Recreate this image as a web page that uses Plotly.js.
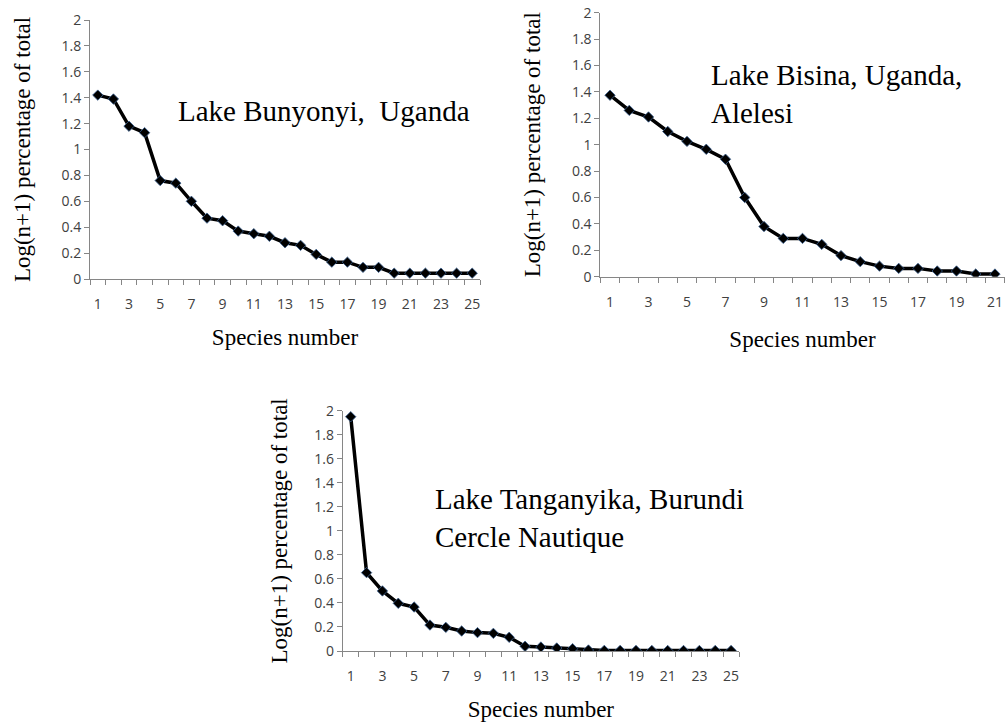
<!DOCTYPE html>
<html>
<head>
<meta charset="utf-8">
<script src="https://cdn.plot.ly/plotly-3.0.1.min.js"></script>
<style>html,body{margin:0;padding:0;background:#fff;}#chart{width:1005px;height:722px;}</style>
</head>
<body>
<div id="chart"></div>
<script>
// ---- data ----
const speciesBunyonyi = [1,2,3,4,5,6,7,8,9,10,11,12,13,14,15,16,17,18,19,20,21,22,23,24,25];
const valuesBunyonyi = [1.42,1.39,1.18,1.13,0.76,0.74,0.60,0.47,0.45,0.37,0.35,0.33,0.28,0.26,0.19,0.13,0.13,0.09,0.09,0.045,0.045,0.045,0.045,0.045,0.045];

const speciesBisina = [1,2,3,4,5,6,7,8,9,10,11,12,13,14,15,16,17,18,19,20,21];
const valuesBisina = [1.375,1.26,1.21,1.10,1.025,0.965,0.89,0.60,0.38,0.29,0.29,0.245,0.16,0.114,0.08,0.063,0.063,0.043,0.043,0.02,0.02];

const speciesTanganyika = [1,2,3,4,5,6,7,8,9,10,11,12,13,14,15,16,17,18,19,20,21,22,23,24,25];
const valuesTanganyika = [1.95,0.652,0.50,0.397,0.366,0.216,0.197,0.166,0.153,0.147,0.114,0.039,0.033,0.025,0.019,0.008,0.005,0.005,0.005,0.004,0.004,0.004,0.004,0.004,0.004];

const labelsBunyonyi = [1,3,5,7,9,11,13,15,17,19,21,23,25];
const labelsBisina = [1,3,5,7,9,11,13,15,17,19,21];
const labelsTanganyika = [1,3,5,7,9,11,13,15,17,19,21,23,25];

const yTitle = 'Log(n+1) percentage of total';
const xTitle = 'Species number';
const titleBunyonyi = 'Lake Bunyonyi,  Uganda';
const titleBisina = 'Lake Bisina, Uganda,<br>Alelesi';
const titleTanganyika = 'Lake Tanganyika, Burundi<br>Cercle Nautique';

// ---- styling ----
const W = 1005, H = 722;
const px = v => v / W;
const py = v => 1 - v / H;
const axisColor = '#868686';
const tickFont = {family: '"Open Sans", Lato, sans-serif', size: 14, color: '#404040'};
const titleFont = {family: '"Liberation Serif", "DejaVu Serif", serif', size: 23, color: '#000000'};
const annFont = {family: '"Liberation Serif", "DejaVu Serif", serif', size: 29, color: '#000000'};

function lineTrace(x, y, xa, ya) {
  return {
    type: 'scatter', mode: 'lines+markers', x: x, y: y, xaxis: xa, yaxis: ya,
    line: {color: '#000000', width: 3.5},
    marker: {symbol: 'diamond', size: 8, color: '#000000', line: {color: '#3a5f8f', width: 0.8}},
    showlegend: false, hoverinfo: 'x+y'
  };
}

function xAxis(domain, n, labels, anchor, standoff) {
  return {
    domain: domain, anchor: anchor, range: [0.5, n + 0.5],
    tickmode: 'array', tickvals: labels, ticktext: labels.map(String),
    ticks: '', ticklabelstandoff: 12,
    minor: {tickmode: 'linear', tick0: 0.5, dtick: 1, ticks: 'outside', ticklen: 5, tickcolor: axisColor, tickwidth: 1, showgrid: false},
    showline: true, linecolor: axisColor, linewidth: 1,
    showgrid: false, zeroline: false, tickfont: tickFont,
    title: {text: xTitle, font: titleFont, standoff: standoff}
  };
}

function yAxis(domain, anchor, standoff) {
  return {
    domain: domain, anchor: anchor, range: [0, 2],
    tickmode: 'linear', tick0: 0, dtick: 0.2,
    ticks: 'outside', ticklen: 5, tickcolor: axisColor, tickwidth: 1,
    showline: true, linecolor: axisColor, linewidth: 1,
    showgrid: false, zeroline: false, tickfont: tickFont,
    title: {text: yTitle, font: titleFont, standoff: standoff}
  };
}

const data = [
  lineTrace(speciesBunyonyi, valuesBunyonyi, 'x', 'y'),
  lineTrace(speciesBisina, valuesBisina, 'x2', 'y2'),
  lineTrace(speciesTanganyika, valuesTanganyika, 'x3', 'y3')
];

const layout = {
  width: W, height: H,
  margin: {l: 0, r: 0, t: 0, b: 0},
  paper_bgcolor: '#ffffff', plot_bgcolor: 'rgba(0,0,0,0)',
  showlegend: false,
  xaxis: xAxis([px(90), px(480)], speciesBunyonyi.length, labelsBunyonyi, 'y', 17),
  yaxis: yAxis([py(279), py(20)], 'x', 24),
  xaxis2: xAxis([px(600.4), px(1004.6)], speciesBisina.length, labelsBisina, 'y2', 21),
  yaxis2: yAxis([py(276.7), py(12.7)], 'x2', 24),
  xaxis3: xAxis([px(342.8), px(739)], speciesTanganyika.length, labelsTanganyika, 'y3', 18),
  yaxis3: yAxis([py(651), py(410.7)], 'x3', 20),
  annotations: [
    {text: titleBunyonyi, xref: 'paper', yref: 'paper', x: px(176), y: py(111), xanchor: 'left', yanchor: 'middle', showarrow: false, font: annFont, align: 'left'},
    {text: titleBisina, xref: 'paper', yref: 'paper', x: px(709), y: py(94), xanchor: 'left', yanchor: 'middle', showarrow: false, font: annFont, align: 'left'},
    {text: titleTanganyika, xref: 'paper', yref: 'paper', x: px(433), y: py(518), xanchor: 'left', yanchor: 'middle', showarrow: false, font: annFont, align: 'left'}
  ]
};

Plotly.newPlot('chart', data, layout, {displayModeBar: false, staticPlot: true});
</script>
</body>
</html>
